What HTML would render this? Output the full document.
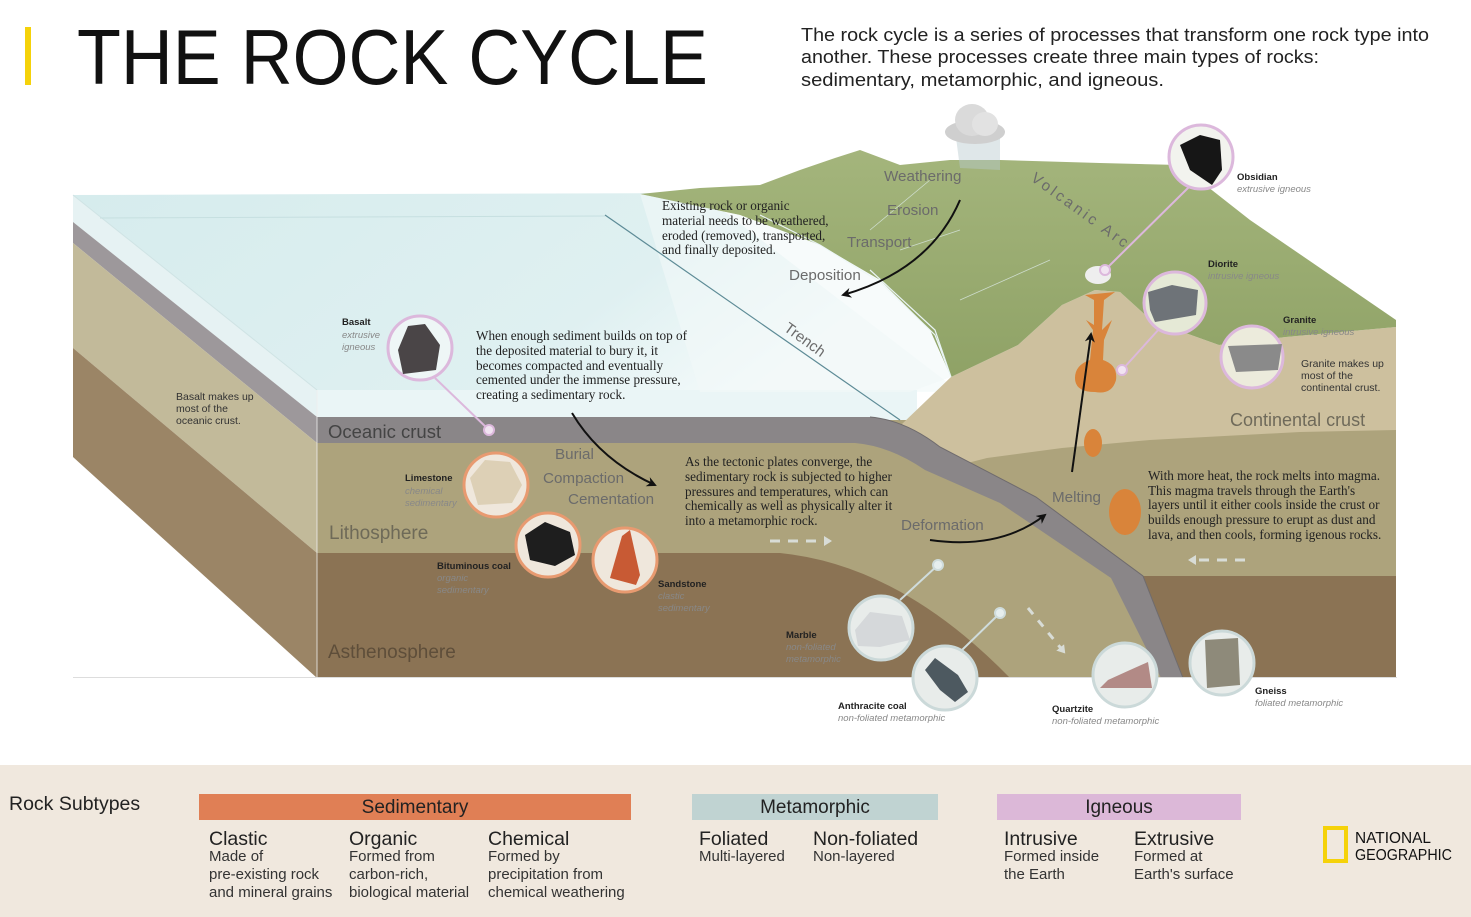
<!DOCTYPE html>
<html><head><meta charset="utf-8"><style>
html,body{margin:0;padding:0;background:#fff;}
svg{display:block;}
.s{font-family:"Liberation Sans",sans-serif;}
.r{font-family:"Liberation Serif",serif;font-size:13.2px;fill:#222;}
.lbl{font-family:"Liberation Sans",sans-serif;font-size:15.2px;fill:#6b6b6b;}
.nb{font-family:"Liberation Sans",sans-serif;font-size:9.5px;font-weight:bold;fill:#222;}
.ni{font-family:"Liberation Sans",sans-serif;font-size:9.5px;font-style:italic;fill:#888;}
.sm{font-family:"Liberation Sans",sans-serif;font-size:10.5px;fill:#333;}
</style></head><body>
<svg width="1471" height="917" viewBox="0 0 1471 917" xmlns="http://www.w3.org/2000/svg">
<defs>
<marker id="ah" markerWidth="10" markerHeight="10" refX="8" refY="5" orient="auto" markerUnits="userSpaceOnUse">
<path d="M0,0 L10,5 L0,10 L3,5 Z" fill="#111"/></marker>
<marker id="ahl" markerWidth="10" markerHeight="10" refX="6" refY="5" orient="auto" markerUnits="userSpaceOnUse">
<path d="M0,0 L8,5 L0,10 Z" fill="#d8dcd6"/></marker>
<linearGradient id="sea" x1="0" y1="0" x2="1" y2="0.3">
<stop offset="0" stop-color="#d6eced"/><stop offset="0.7" stop-color="#dff0f1"/><stop offset="1" stop-color="#f6fbfb"/></linearGradient>
<linearGradient id="grn" x1="0" y1="0" x2="0" y2="1">
<stop offset="0" stop-color="#a4b57c"/><stop offset="1" stop-color="#8fa266"/></linearGradient>
</defs>
<rect width="1471" height="917" fill="#fff"/>

<!-- header -->
<rect x="25" y="27" width="6" height="58" fill="#f5d20a"/>
<text x="77" y="84" class="s" font-size="78" fill="#111" textLength="631" lengthAdjust="spacingAndGlyphs">THE ROCK CYCLE</text>
<g class="s" font-size="18.5" fill="#222">
<text x="801" y="41" textLength="628" lengthAdjust="spacingAndGlyphs">The rock cycle is a series of processes that transform one rock type into</text>
<text x="801" y="63" textLength="518" lengthAdjust="spacingAndGlyphs">another. These processes create three main types of rocks:</text>
<text x="801" y="86" textLength="363" lengthAdjust="spacingAndGlyphs">sedimentary, metamorphic, and igneous.</text>
</g>

<!-- LEFT SIDE FACE -->
<polygon points="73,195 317,390 317,417 73,222" fill="#e6f2f3"/>
<polygon points="73,222 317,417 317,443 73,243" fill="#9d989b"/>
<polygon points="73,243 317,443 317,553 73,348" fill="#c2ba9a"/>
<polygon points="73,348 317,553 317,678 73,457" fill="#9b8566"/>

<!-- OCEAN TOP -->
<polygon points="73,195 700,193 960,392 317,390" fill="url(#sea)"/>
<line x1="73" y1="195" x2="317" y2="390" stroke="#cfe3e4" stroke-width="1"/>
<line x1="100" y1="218" x2="605" y2="216" stroke="#c6dfe0" stroke-width="1"/>

<!-- FRONT FACE LAYERS -->
<rect x="317" y="390" width="600" height="30" fill="#eaf5f6"/>
<!-- base lithosphere everywhere -->
<rect x="317" y="420" width="1079" height="258" fill="#ada37c"/>
<!-- asthenosphere left -->
<path d="M317,553 L780,553 Q900,565 1010,678 L317,678 Z" fill="#8b7354"/>
<!-- asthenosphere right -->
<polygon points="1130,576 1396,576 1396,678 1170,678" fill="#8b7354"/>
<!-- continental crust tan -->
<path d="M902,424 L951,377 L1018,345 L1062,305 L1095,290 L1120,292 L1152,321 L1219,345 L1286,337 L1396,327 L1396,430 L1300,432 L1150,440 L1062,448 L987,458 L940,470 Z" fill="#cdc09e"/>
<!-- green land -->
<path d="M640,194 L700,188 L760,185 L800,170 L835,158 L860,150 L900,165 L950,160 L1000,160 L1100,163 L1180,165 L1250,220 L1396,320 L1396,327 L1286,337 L1219,345 L1152,321 L1120,292 L1095,290 L1062,305 L1018,345 L951,377 L930,330 L880,280 L820,245 L740,215 Z" fill="url(#grn)"/>
<path d="M760,215 L820,245 L880,282 L935,335 L951,377 L935,330 L870,270" fill="none" stroke="#e9f4f4" stroke-width="1.2"/>
<path d="M870,230 L930,180 M900,250 L960,230 M960,300 L1050,260" stroke="#dbe8e4" stroke-width="0.8" fill="none" opacity="0.8"/>
<path d="M640,194 L740,215 L820,245 L880,280 L930,330 L951,377 L910,392 L700,392 Z" fill="#f1f8f8" opacity="0.6"/>
<line x1="605" y1="215" x2="900" y2="420" stroke="#5d8b96" stroke-width="1.2"/>

<!-- SLAB -->
<path d="M317,417 L870,417 Q905,420 940,447 L1036,497 L1143,576 L1183,678 L1161,678 L1111,578 L1000,503 L925,470 Q890,446 855,443 L317,443 Z" fill="#8a8688"/>
<path d="M870,417 Q905,420 940,447 L1036,497 L1143,576 L1183,678" fill="none" stroke="#6f6b6d" stroke-width="1"/>
<rect x="73" y="677" width="1324" height="1" fill="#ddd"/>
<line x1="317" y1="390" x2="317" y2="678" stroke="#eee" stroke-width="0.8"/>

<!-- dashed arrows -->
<line x1="770" y1="541" x2="830" y2="541" stroke="#d8dcd6" stroke-width="3" stroke-dasharray="10,8" marker-end="url(#ahl)"/>
<line x1="1245" y1="560" x2="1190" y2="560" stroke="#d8dcd6" stroke-width="3" stroke-dasharray="10,8" marker-end="url(#ahl)"/>
<line x1="1028" y1="608" x2="1064" y2="652" stroke="#d8dcd6" stroke-width="3" stroke-dasharray="8,8" marker-end="url(#ahl)"/>

<!-- cloud -->
<path d="M955,130 L1000,132 L1000,170 L960,168 Z" fill="#b9c9cf" opacity="0.45"/>
<ellipse cx="975" cy="132" rx="30" ry="12" fill="#cfcfcf"/>
<ellipse cx="972" cy="120" rx="17" ry="16" fill="#dadada"/>
<ellipse cx="985" cy="124" rx="13" ry="12" fill="#e2e2e2"/>

<!-- magma -->
<path d="M1085,295 L1115,292 L1104,300 L1102,330 L1112,320 L1104,340 L1103,360 Q1118,365 1116,380 Q1112,395 1095,392 Q1075,392 1075,378 Q1075,365 1090,360 L1093,330 L1086,320 L1094,325 L1094,300 Z" fill="#d9843a"/>
<ellipse cx="1093" cy="443" rx="9" ry="14" fill="#d9843a"/>
<ellipse cx="1125" cy="512" rx="16" ry="23" fill="#d9843a"/>
<ellipse cx="1098" cy="275" rx="13" ry="9" fill="#eeeeee"/>

<!-- black arrows -->
<path d="M960,200 Q930,270 843,295" fill="none" stroke="#111" stroke-width="2" marker-end="url(#ah)"/>
<path d="M572,413 Q600,460 655,485" fill="none" stroke="#111" stroke-width="2" marker-end="url(#ah)"/>
<path d="M930,540 Q1000,550 1045,515" fill="none" stroke="#111" stroke-width="2" marker-end="url(#ah)"/>
<path d="M1072,472 L1091,334" fill="none" stroke="#111" stroke-width="2" marker-end="url(#ah)"/>

<!-- connectors -->
<g stroke-width="2" fill="none">
<line x1="1190" y1="186" x2="1105" y2="270" stroke="#dcb8dc"/>
<line x1="1160" y1="328" x2="1122" y2="370" stroke="#dcb8dc"/>
<line x1="435" y1="378" x2="489" y2="430" stroke="#dcb8dc"/>
<line x1="900" y1="600" x2="938" y2="565" stroke="#cfdcdc"/>
<line x1="962" y1="650" x2="1000" y2="613" stroke="#cfdcdc"/>
</g>
<g fill="#f1e4f1" stroke="#dcb8dc" stroke-width="2">
<circle cx="1105" cy="270" r="5"/><circle cx="1122" cy="370" r="5"/><circle cx="489" cy="430" r="5"/>
</g>
<g fill="#e6eeee" stroke="#cfdcdc" stroke-width="2">
<circle cx="938" cy="565" r="5"/><circle cx="1000" cy="613" r="5"/>
</g>

<!-- rock circles -->
<g stroke-width="3">
<circle cx="1201" cy="157" r="32" fill="#f2f3ee" stroke="#dcb8dc"/>
<circle cx="1175" cy="303" r="31" fill="#e5e9d6" stroke="#dcb8dc"/>
<circle cx="1252" cy="357" r="31" fill="#ecebdc" stroke="#dcb8dc"/>
<circle cx="420" cy="348" r="32" fill="#eef6f6" stroke="#dcb8dc"/>
<circle cx="496" cy="485" r="32" fill="#efe7dc" stroke="#e89a70"/>
<circle cx="548" cy="545" r="32" fill="#efe7dc" stroke="#e89a70"/>
<circle cx="625" cy="560" r="32" fill="#efe7dc" stroke="#e89a70"/>
<circle cx="881" cy="628" r="32" fill="#e8ecea" stroke="#cbd9d9"/>
<circle cx="945" cy="678" r="32" fill="#e8ecea" stroke="#cbd9d9"/>
<circle cx="1125" cy="675" r="32" fill="#e8ecea" stroke="#cbd9d9"/>
<circle cx="1222" cy="663" r="32" fill="#e8ecea" stroke="#cbd9d9"/>
</g>
<polygon points="1180,145 1200,135 1220,140 1222,170 1212,185 1190,170" fill="#161616"/>
<polygon points="1148,292 1172,285 1198,290 1196,315 1155,322 1150,310" fill="#6e7378"/>
<polygon points="1228,346 1282,344 1278,370 1236,372" fill="#8a8a8a"/>
<polygon points="408,326 425,324 440,345 436,370 403,374 398,350" fill="#4a4547"/>
<polygon points="470,478 485,460 510,462 522,485 512,503 478,505" fill="#ddd0b6"/>
<polygon points="525,535 545,522 570,532 575,555 555,566 530,560" fill="#1e1e1e"/>
<polygon points="610,578 622,536 630,530 640,575 636,585" fill="#c85a34"/>
<polygon points="855,630 870,612 902,616 910,640 880,647 858,646" fill="#d5d8da"/>
<polygon points="925,670 935,658 958,675 968,692 955,702 940,690" fill="#4d5960"/>
<polygon points="1100,688 1108,680 1130,670 1148,662 1152,688" fill="#b28a86"/>
<polygon points="1205,640 1238,638 1240,685 1207,688" fill="#8e8a7a"/>

<!-- rock labels -->
<text x="1237" y="180" class="nb">Obsidian</text><text x="1237" y="192" class="ni">extrusive igneous</text>
<text x="1208" y="267" class="nb">Diorite</text><text x="1208" y="279" class="ni">intrusive igneous</text>
<text x="1283" y="323" class="nb">Granite</text><text x="1283" y="335" class="ni">intrusive igneous</text>
<text x="1301" y="367" class="sm">Granite makes up</text><text x="1301" y="379" class="sm">most of the</text><text x="1301" y="391" class="sm">continental crust.</text>
<text x="342" y="325" class="nb">Basalt</text><text x="342" y="338" class="ni">extrusive</text><text x="342" y="350" class="ni">igneous</text>
<text x="176" y="400" class="sm">Basalt makes up</text><text x="176" y="412" class="sm">most of the</text><text x="176" y="424" class="sm">oceanic crust.</text>
<text x="405" y="481" class="nb">Limestone</text><text x="405" y="494" class="ni">chemical</text><text x="405" y="506" class="ni">sedimentary</text>
<text x="437" y="569" class="nb">Bituminous coal</text><text x="437" y="581" class="ni">organic</text><text x="437" y="593" class="ni">sedimentary</text>
<text x="658" y="587" class="nb">Sandstone</text><text x="658" y="599" class="ni">clastic</text><text x="658" y="611" class="ni">sedimentary</text>
<text x="786" y="638" class="nb">Marble</text><text x="786" y="650" class="ni">non-foliated</text><text x="786" y="662" class="ni">metamorphic</text>
<text x="838" y="709" class="nb">Anthracite coal</text><text x="838" y="721" class="ni">non-foliated metamorphic</text>
<text x="1052" y="712" class="nb">Quartzite</text><text x="1052" y="724" class="ni">non-foliated metamorphic</text>
<text x="1255" y="694" class="nb">Gneiss</text><text x="1255" y="706" class="ni">foliated metamorphic</text>

<!-- process labels -->
<text x="884" y="181" class="lbl">Weathering</text>
<text x="887" y="215" class="lbl">Erosion</text>
<text x="847" y="247" class="lbl">Transport</text>
<text x="789" y="280" class="lbl">Deposition</text>
<text x="555" y="459" class="lbl">Burial</text>
<text x="543" y="483" class="lbl">Compaction</text>
<text x="568" y="504" class="lbl">Cementation</text>
<text x="901" y="530" class="lbl">Deformation</text>
<text x="1052" y="502" class="lbl">Melting</text>
<text x="1030" y="180" class="lbl" font-size="13" transform="rotate(36 1030 180)" letter-spacing="3">Volcanic Arc</text>
<text x="783" y="330" class="lbl" font-size="16" transform="rotate(36 783 330)" fill="#6f8d94">Trench</text>

<!-- layer labels -->
<text x="328" y="438" class="s" font-size="18.5" fill="#444">Oceanic crust</text>
<text x="329" y="539" class="s" font-size="19" fill="#6e6a58">Lithosphere</text>
<text x="328" y="658" class="s" font-size="19" fill="#5e4e3a">Asthenosphere</text>
<text x="1230" y="426" class="s" font-size="18" fill="#6f6a5a">Continental crust</text>

<!-- paragraphs -->
<g class="r">
<text x="662" y="210">Existing rock or organic</text>
<text x="662" y="225">material needs to be weathered,</text>
<text x="662" y="240">eroded (removed), transported,</text>
<text x="662" y="254">and finally deposited.</text>
<text x="476" y="340">When enough sediment builds on top of</text>
<text x="476" y="355">the deposited material to bury it, it</text>
<text x="476" y="370">becomes compacted and eventually</text>
<text x="476" y="384">cemented under the immense pressure,</text>
<text x="476" y="399">creating a sedimentary rock.</text>
<text x="685" y="466">As the tectonic plates converge, the</text>
<text x="685" y="481">sedimentary rock is subjected to higher</text>
<text x="685" y="496">pressures and temperatures, which can</text>
<text x="685" y="510">chemically as well as physically alter it</text>
<text x="685" y="525">into a metamorphic rock.</text>
<text x="1148" y="480">With more heat, the rock melts into magma.</text>
<text x="1148" y="495">This magma travels through the Earth's</text>
<text x="1148" y="509">layers until it either cools inside the crust or</text>
<text x="1148" y="524">builds enough pressure to erupt as dust and</text>
<text x="1148" y="539">lava, and then cools, forming igenous rocks.</text>
</g>

<!-- bottom panel -->
<rect x="0" y="765" width="1471" height="152" fill="#f0e8de"/>
<text x="9" y="810" class="s" font-size="19.5" fill="#222">Rock Subtypes</text>
<rect x="199" y="794" width="432" height="26" fill="#e07f55"/>
<rect x="692" y="794" width="246" height="26" fill="#c0d3d2"/>
<rect x="997" y="794" width="244" height="26" fill="#dcb8d8"/>
<g class="s" font-size="19" fill="#222" text-anchor="middle">
<text x="415" y="813">Sedimentary</text>
<text x="815" y="813">Metamorphic</text>
<text x="1119" y="813">Igneous</text>
</g>
<g class="s" font-size="19.5" fill="#222">
<text x="209" y="845">Clastic</text><text x="349" y="845">Organic</text><text x="488" y="845">Chemical</text>
<text x="699" y="845">Foliated</text><text x="813" y="845">Non-foliated</text>
<text x="1004" y="845">Intrusive</text><text x="1134" y="845">Extrusive</text>
</g>
<g class="s" font-size="15" fill="#333">
<text x="209" y="861">Made of</text><text x="209" y="879">pre-existing rock</text><text x="209" y="897">and mineral grains</text>
<text x="349" y="861">Formed from</text><text x="349" y="879">carbon-rich,</text><text x="349" y="897">biological material</text>
<text x="488" y="861">Formed by</text><text x="488" y="879">precipitation from</text><text x="488" y="897">chemical weathering</text>
<text x="699" y="861">Multi-layered</text><text x="813" y="861">Non-layered</text>
<text x="1004" y="861">Formed inside</text><text x="1004" y="879">the Earth</text>
<text x="1134" y="861">Formed at</text><text x="1134" y="879">Earth's surface</text>
</g>
<rect x="1325" y="828" width="21" height="33" fill="none" stroke="#f5d20a" stroke-width="4"/>
<text x="1355" y="843" class="s" font-size="16" fill="#111" textLength="76" lengthAdjust="spacingAndGlyphs">NATIONAL</text>
<text x="1355" y="860" class="s" font-size="16" fill="#111" textLength="97" lengthAdjust="spacingAndGlyphs">GEOGRAPHIC</text>
</svg>
</body></html>
